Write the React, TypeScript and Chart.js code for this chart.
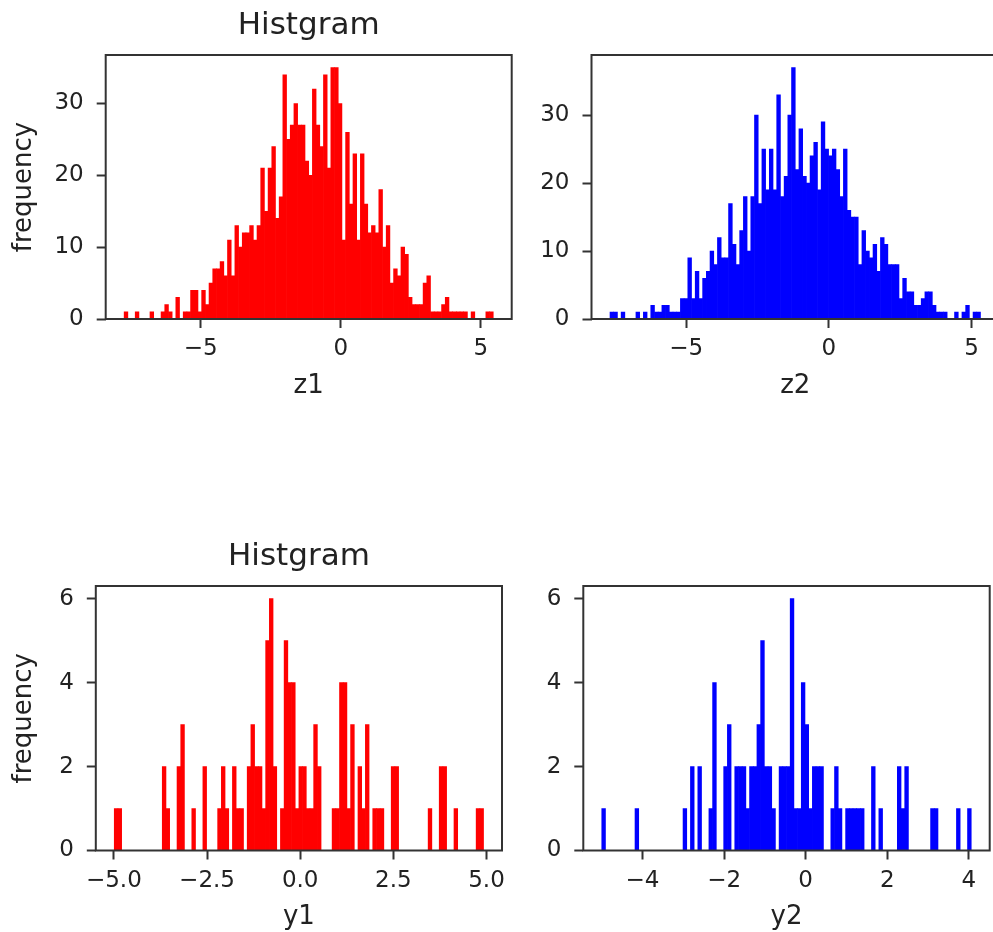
import React, { useEffect, useRef } from 'react';
import { Chart, registerables } from 'chart.js';

Chart.register(...registerables);

// ---- data (bin counts, 100 equal bins over each range) ----
const z1Range = [-7.73, 5.44];
const z1Counts = [
  1, 0, 0, 1, 0, 0, 0, 1, 0, 0,
  1, 2, 1, 0, 3, 0, 1, 1, 4, 4,
  1, 4, 2, 5, 7, 7, 8, 6, 11, 6,
  13, 10, 12, 12, 13, 11, 13, 21, 15, 21,
  24, 14, 17, 34, 25, 27, 30, 27, 27, 22,
  20, 32, 27, 24, 34, 21, 35, 35, 30, 11,
  26, 16, 23, 11, 23, 16, 12, 13, 12, 18,
  10, 13, 5, 7, 6, 10, 9, 3, 2, 2,
  2, 5, 6, 1, 1, 1, 2, 3, 1, 1,
  1, 1, 1, 0, 1, 0, 0, 0, 1, 1,
];

const z2Range = [-7.67, 5.31];
const z2Counts = [
  1, 1, 0, 1, 0, 0, 0, 1, 0, 1,
  0, 2, 1, 1, 2, 2, 1, 1, 1, 3,
  3, 9, 3, 7, 3, 6, 7, 10, 8, 12,
  9, 9, 17, 11, 8, 13, 18, 10, 18, 30,
  17, 25, 19, 25, 19, 33, 18, 21, 30, 37,
  22, 28, 21, 20, 24, 26, 19, 29, 25, 24,
  25, 22, 18, 25, 16, 15, 15, 8, 13, 10,
  9, 11, 7, 12, 11, 8, 8, 8, 3, 6,
  4, 4, 2, 2, 3, 4, 4, 2, 1, 1,
  1, 0, 0, 1, 0, 1, 2, 0, 1, 1,
];

const y1Range = [-4.99, 4.92];
const y1Counts = [
  1, 1, 0, 0, 0, 0, 0, 0, 0, 0,
  0, 0, 0, 2, 1, 0, 0, 2, 3, 0,
  0, 1, 0, 0, 2, 0, 0, 0, 1, 2,
  1, 0, 2, 1, 1, 0, 2, 3, 2, 2,
  1, 5, 6, 2, 0, 1, 5, 4, 4, 1,
  2, 2, 1, 1, 3, 2, 0, 0, 0, 1,
  1, 4, 4, 1, 3, 0, 2, 1, 3, 0,
  1, 1, 1, 0, 0, 2, 2, 0, 0, 0,
  0, 0, 0, 0, 0, 1, 0, 0, 2, 2,
  0, 0, 1, 0, 0, 0, 0, 0, 1, 1,
];

const y2Range = [-5.0, 4.06];
const y2Counts = [
  1, 0, 0, 0, 0, 0, 0, 0, 0, 1,
  0, 0, 0, 0, 0, 0, 0, 0, 0, 0,
  0, 0, 1, 0, 2, 0, 2, 0, 0, 1,
  4, 0, 0, 2, 3, 0, 2, 2, 2, 1,
  2, 2, 3, 5, 2, 2, 1, 0, 2, 2,
  2, 6, 1, 1, 4, 3, 1, 2, 2, 2,
  0, 0, 1, 2, 1, 0, 1, 1, 1, 1,
  1, 0, 0, 2, 0, 1, 0, 0, 0, 0,
  2, 1, 2, 0, 0, 0, 0, 0, 0, 1,
  1, 0, 0, 0, 0, 0, 1, 0, 0, 1,
];

const zXTicks = [-5, 0, 5];
const zYTicks = [0, 10, 20, 30];
const y1XTicks = [-5, -2.5, 0, 2.5, 5];
const y2XTicks = [-4, -2, 0, 2, 4];
const yYTicks = [0, 2, 4, 6];

const titleText = 'Histgram';
const yLabelText = 'frequency';

// ---- styling ----
const FONT = "'DejaVu Sans', 'Liberation Sans', sans-serif";
const TEXT = '#222222';
const LINE = '#333333';
const TICK_SIZE = 23;
const LABEL_SIZE = 26;
const TITLE_SIZE = 31;
const TICK_LEN = 9;

function binPoints(counts: number[], range: number[]) {
  const w = (range[1] - range[0]) / counts.length;
  return counts.map((c, i) => ({ x: range[0] + w * (i + 0.5), y: c }));
}

function fmt(v: number, d: number) {
  return (v < 0 ? '\u2212' : '') + Math.abs(v).toFixed(d);
}

const framePlugin = {
  id: 'frame',
  afterDraw(chart: any) {
    const { ctx, chartArea: a } = chart;
    ctx.save();
    ctx.strokeStyle = LINE;
    ctx.lineWidth = 2;
    ctx.strokeRect(a.left, a.top, a.right - a.left, a.bottom - a.top);
    ctx.restore();
  },
};

type Box = { x: number; y: number; w: number; h: number };
type Area = { l: number; r: number; t: number; b: number };

type PanelProps = {
  counts: number[];
  range: number[];
  color: string;
  xTicks: number[];
  xDecimals: number;
  yTicks: number[];
  xLabel: string;
  yLabel?: string;
  title?: string;
  box: Box;
  area: Area;
};

function HistPanel(props: PanelProps) {
  const ref = useRef<HTMLCanvasElement | null>(null);
  useEffect(() => {
    const { counts, range, color, xTicks, xDecimals, yTicks, xLabel, yLabel, title, box, area } = props;
    const span = range[1] - range[0];
    const xMin = range[0] - 0.05 * span;
    const xMax = range[1] + 0.05 * span;
    const yMax = Math.max(...counts) * 1.05;

    const labelLH = LABEL_SIZE * 1.2;
    const tickLH = TICK_SIZE * 1.2;
    const titleLH = TITLE_SIZE * 1.2;
    const xAxisH = 67 + labelLH / 2;
    const xTickPad = 30.2 - TICK_LEN - tickLH / 2;
    const yAxisLeft = yLabel ? 9 : 0;
    const titleCenter = 26;
    const titleBlock = 55;
    const titlePadTop = titleCenter - titleLH / 2;
    const titlePadBottom = titleBlock - titlePadTop - titleLH;

    const chart = new Chart(ref.current as HTMLCanvasElement, {
      type: 'bar',
      data: {
        datasets: [
          {
            data: binPoints(counts, range) as any,
            backgroundColor: color,
            borderWidth: 0,
            barPercentage: 1,
            categoryPercentage: 1,
          },
        ],
      },
      options: {
        responsive: false,
        animation: false,
        events: [],
        layout: {
          autoPadding: false,
          padding: {
            left: yAxisLeft,
            right: box.w - area.r,
            top: title ? area.t - titleBlock : area.t,
            bottom: box.h - area.b - xAxisH,
          },
        },
        plugins: {
          legend: { display: false },
          tooltip: { enabled: false },
          title: title
            ? {
                display: true,
                text: title,
                fullSize: false,
                color: TEXT,
                font: { family: FONT, size: TITLE_SIZE, weight: 'normal' },
                padding: { top: titlePadTop, bottom: titlePadBottom },
              }
            : { display: false },
        },
        scales: {
          x: {
            type: 'linear',
            min: xMin,
            max: xMax,
            bounds: 'data',
            offset: false,
            grid: {
              display: true,
              offset: false,
              drawOnChartArea: false,
              drawTicks: true,
              tickLength: TICK_LEN,
              tickWidth: 2,
              tickColor: LINE,
              color: LINE,
            },
            border: { display: false },
            ticks: {
              autoSkip: false,
              maxRotation: 0,
              minRotation: 0,
              padding: xTickPad,
              color: TEXT,
              font: { family: FONT, size: TICK_SIZE },
              callback: (v: any) => fmt(Number(v), xDecimals),
            },
            title: {
              display: true,
              text: xLabel,
              color: TEXT,
              font: { family: FONT, size: LABEL_SIZE },
              padding: 0,
            },
            afterBuildTicks: (s: any) => {
              s.ticks = xTicks.map((v) => ({ value: v }));
            },
            afterFit: (s: any) => {
              s.height = xAxisH;
            },
          },
          y: {
            type: 'linear',
            min: 0,
            max: yMax,
            bounds: 'data',
            grid: {
              display: true,
              drawOnChartArea: false,
              drawTicks: true,
              tickLength: TICK_LEN,
              tickWidth: 2,
              tickColor: LINE,
              color: LINE,
            },
            border: { display: false },
            ticks: {
              autoSkip: false,
              padding: 13,
              color: TEXT,
              font: { family: FONT, size: TICK_SIZE },
              callback: (v: any) => fmt(Number(v), 0),
            },
            title: yLabel
              ? {
                  display: true,
                  text: yLabel,
                  color: TEXT,
                  font: { family: FONT, size: LABEL_SIZE },
                  padding: 0,
                }
              : { display: false },
            afterBuildTicks: (s: any) => {
              s.ticks = yTicks.map((v) => ({ value: v }));
            },
            afterFit: (s: any) => {
              s.width = area.l - yAxisLeft;
            },
          },
        },
      } as any,
      plugins: [framePlugin],
    });
    return () => chart.destroy();
  }, []);

  const { box } = props;
  return (
    <canvas
      ref={ref}
      width={box.w}
      height={box.h}
      style={{ position: 'absolute', left: box.x, top: box.y, width: box.w, height: box.h }}
    />
  );
}

export default function App() {
  return (
    <div
      style={{
        position: 'absolute',
        left: 0,
        top: 0,
        width: 993,
        height: 932,
        overflow: 'hidden',
        background: '#ffffff',
      }}
    >
      <HistPanel
        counts={z1Counts}
        range={z1Range}
        color="#ff0000"
        xTicks={zXTicks}
        xDecimals={0}
        yTicks={zYTicks}
        xLabel="z1"
        yLabel={yLabelText}
        title={titleText}
        box={{ x: 0, y: 0, w: 530, h: 480 }}
        area={{ l: 105.7, r: 511.7, t: 55, b: 319 }}
      />
      <HistPanel
        counts={z2Counts}
        range={z2Range}
        color="#0000ff"
        xTicks={zXTicks}
        xDecimals={0}
        yTicks={zYTicks}
        xLabel="z2"
        box={{ x: 500, y: 0, w: 510, h: 480 }}
        area={{ l: 91.5, r: 499, t: 55, b: 319 }}
      />
      <HistPanel
        counts={y1Counts}
        range={y1Range}
        color="#ff0000"
        xTicks={y1XTicks}
        xDecimals={1}
        yTicks={yYTicks}
        xLabel="y1"
        yLabel={yLabelText}
        title={titleText}
        box={{ x: 0, y: 466, w: 530, h: 480 }}
        area={{ l: 95.8, r: 502, t: 120, b: 384.5 }}
      />
      <HistPanel
        counts={y2Counts}
        range={y2Range}
        color="#0000ff"
        xTicks={y2XTicks}
        xDecimals={0}
        yTicks={yYTicks}
        xLabel="y2"
        box={{ x: 500, y: 466, w: 493, h: 480 }}
        area={{ l: 83.3, r: 489.7, t: 120, b: 384.5 }}
      />
    </div>
  );
}
